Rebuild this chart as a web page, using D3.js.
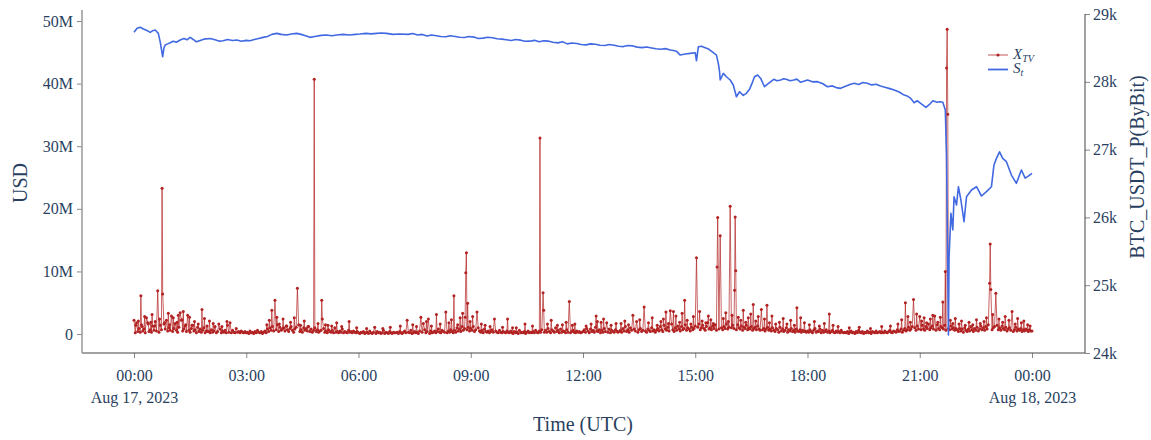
<!DOCTYPE html>
<html><head><meta charset="utf-8">
<script src="https://cdn.jsdelivr.net/npm/d3@7/dist/d3.min.js"></script>
<style>body{margin:0;background:#fff}svg{display:block}</style>
</head><body>
<svg id="c" width="1151" height="440"></svg>
<script>
// ---- DATA ----
// X_TV background activity, every 2 minutes from 2023-08-17 00:00 UTC, in units of 0.1M USD (one row per hour)
const xtvBase = [
 6,2,12,4,9,3,15,5,8,2,11,18,4,7,3,13,6,20,5,9,3,14,7,4,16,8,25,5,10,6,
 12,4,9,15,6,3,11,7,22,5,8,13,4,10,6,3,9,14,5,7,2,11,4,8,3,6,10,2,5,4,
 4,2,7,3,5,12,2,4,3,8,2,5,3,6,2,14,3,4,2,6,3,2,9,3,4,2,5,3,2,4,
 2,3,1,5,2,3,1,4,2,6,3,2,4,1,3,5,2,8,4,10,6,12,5,9,7,15,4,11,6,8,
 10,5,13,7,4,9,12,6,3,8,11,5,15,4,7,3,10,6,9,5,12,4,8,3,6,10,4,7,3,5,
 6,4,9,3,5,2,7,4,3,6,2,10,3,4,2,5,3,8,2,4,3,2,6,3,4,2,5,3,2,4,
 2,1,3,2,4,1,2,3,1,5,2,1,3,2,1,4,2,3,1,2,6,1,3,2,1,4,2,1,3,2,
 2,3,1,4,2,1,3,5,2,1,3,2,6,1,2,4,2,3,1,5,2,3,1,7,2,4,3,1,5,2,
 3,5,2,4,8,3,2,6,4,3,9,2,5,3,7,4,2,6,3,10,5,8,4,12,6,9,15,7,11,5,
 9,6,12,4,7,3,10,5,3,6,2,8,4,3,5,2,4,7,3,2,5,3,2,6,3,2,4,3,2,5,
 3,2,5,2,1,4,2,3,1,6,2,3,2,4,1,3,5,2,3,2,4,2,6,3,2,5,3,7,4,3,
 6,3,9,4,2,7,5,3,10,4,6,2,8,3,5,4,2,7,3,5,2,4,6,3,2,5,3,4,2,3,
 4,7,3,9,5,2,8,4,6,3,11,5,4,7,2,6,3,9,4,5,3,8,2,6,4,3,7,5,3,4,
 6,3,9,5,12,4,7,3,10,6,4,8,5,13,3,7,9,4,6,11,5,3,8,6,4,10,5,7,3,6,
 9,5,12,7,4,14,8,6,11,5,9,16,7,4,10,6,13,8,5,12,7,9,15,6,10,8,5,11,7,9,
 13,8,11,16,7,10,14,9,6,12,18,8,10,7,13,9,15,6,11,8,14,10,7,12,9,16,8,11,7,10,
 14,9,12,7,15,10,8,13,6,11,9,14,7,10,8,12,6,9,11,7,13,8,6,10,7,9,5,8,11,6,
 8,5,10,6,4,9,7,3,11,5,8,4,6,10,3,7,5,9,4,6,3,8,5,4,7,3,6,4,5,3,
 5,3,7,4,2,6,9,3,5,4,8,2,6,3,4,7,3,5,2,4,6,3,2,5,3,4,2,6,3,2,
 3,2,4,1,3,5,2,3,1,4,2,6,3,2,4,1,3,2,5,2,3,1,4,3,2,5,2,3,4,2,
 3,2,5,3,2,4,6,3,2,5,4,3,7,4,5,8,3,6,9,5,7,11,6,8,12,7,10,6,13,8,
 11,7,14,8,6,12,9,16,7,10,13,8,11,6,15,9,7,12,10,8,14,6,11,9,7,13,8,10,6,9,
 7,4,9,5,8,3,10,6,4,8,5,12,7,4,9,6,11,5,8,13,7,10,6,12,8,15,9,11,7,10,
 12,8,14,7,10,6,13,9,7,11,5,8,10,6,9,4,7,11,5,8,6,9,4,7,5,8,6,4,7,5,
 5
];
// X_TV medium prints between the 2-minute samples: minute after 00:00 and value in M USD
const xtvMidMin = [3,7,13,17,23,29,33,41,49,55,57,63,69,71,77,83,89,93,97,103,113,117,127,141,149,
 213,217,233,239,245,251,257,267,273,279,295,307,317,325,
 357,373,411,447,453,477,491,
 505,509,519,523,527,539,543,557,563,571,
 591,613,639,663,669,687,693,703,
 725,733,749,753,765,773,787,793,811,825,831,839,845,
 849,857,869,875,879,887,893,897,907,911,917,921,925,929,945,949,953,959,969,973,977,981,985,989,997,1001,1011,1019,1023,1029,
 1035,1041,1047,1053,1059,1069,1075,1083,1091,1099,1107,1121,1129,
 1147,1163,1181,1199,1213,1225,
 1231,1241,1245,1255,1263,1267,1271,1277,1281,1289,1293,1309,1313,1317,1323,1327,1333,1339,1345,1351,1357,1363,1367,1377,1387,1393,1397,1403,1413,1417,1423,1427,1433,1437];
const xtvMidVal = [1.4,2.1,1.2,2.8,1.6,3.1,1.3,2.4,1.8,3.3,1.5,2.6,1.9,3.0,2.3,1.5,2.7,1.4,2.0,1.6,2.5,1.3,1.7,1.2,2.0,
 1.5,2.2,1.6,2.4,1.3,1.9,2.6,1.4,2.1,1.2,1.7,1.5,1.3,1.8,
 1.0,0.9,1.1,1.5,1.2,1.3,1.6,
 1.8,2.3,1.5,2.6,3.3,2.0,2.8,1.6,1.4,1.2,
 1.1,1.0,1.3,1.6,2.2,1.5,1.9,1.4,
 1.3,1.6,1.9,2.4,1.4,1.7,2.1,1.5,2.3,1.8,2.6,1.4,2.0,
 2.4,1.7,2.9,1.9,3.3,2.2,1.6,2.8,3.6,2.1,1.8,2.9,2.3,1.7,2.5,3.4,2.0,3.0,2.7,2.2,3.8,1.9,2.6,3.2,2.1,2.8,2.4,1.8,2.9,1.6,
 1.9,2.5,1.6,2.2,1.4,2.6,1.8,1.5,2.0,1.3,1.7,1.4,1.2,
 1.0,1.1,0.9,1.2,1.3,1.6,
 2.3,2.8,1.9,3.2,2.1,2.6,1.8,2.4,3.0,1.9,2.7,2.2,1.7,2.5,1.6,2.1,1.4,1.9,1.5,2.3,1.7,2.0,2.6,3.1,2.4,1.9,2.8,2.2,1.6,2.5,1.8,2.1,1.5,1.3];
// X_TV larger prints: minute after 00:00 and value in M USD
const xtvSpikeMin = [0,4,11,20,27,38,45,46,52,60,66,74,79,86,109,121,136,154,221,226,229,262,289,301,302,311,333,345,386,399,427,438,460,464,469,472,485,500,513,531,532,533,535,550,578,599,607,627,651,656,657,679,698,707,741,743,758,781,800,806,818,853,860,865,883,902,935,936,940,956,963,964,965,993,1006,1015,1063,1115,1237,1250,1260,1284,1297,1301,1303,1304,1305,1372,1373,1374,1382,1408];
const xtvSpikeVal = [2.2,1.8,6.1,2.6,1.9,6.9,23.3,6.4,2.2,2.9,1.7,3.4,3.6,3.0,3.9,2.1,1.6,1.8,3.8,5.4,2.7,7.3,40.7,5.4,2.4,1.4,1.2,2.0,1.1,0.9,1.3,2.2,2.7,1.7,2.0,2.4,3.1,3.5,6.1,2.7,9.8,13.0,4.9,3.5,2.4,2.4,1.0,1.6,31.3,6.6,3.8,1.4,5.2,1.6,2.9,2.0,1.8,1.7,3.0,2.0,4.3,3.5,3.7,3.6,5.4,12.2,10.7,18.6,15.7,20.4,7.0,18.7,10.1,4.7,3.9,4.6,4.2,3.2,5.0,5.5,2.8,2.9,5.1,10.0,42.5,48.7,35.1,8.1,14.4,7.1,6.5,3.6];
// S_t: BTC_USDT_P (ByBit) price, minute after 00:00 and price
const priceMin = [0,5,10,15,20,26,30,34,39,42,44,46,48,50,54,58,63,68,74,80,85,90,95,100,106,112,122,130,137,143,150,158,165,172,180,186,193,200,207,214,221,229,236,245,252,261,268,275,282,290,300,309,317,325,335,345,355,362,372,380,389,397,405,415,426,
 440,447,455,462,470,477,485,492,500,507,515,522,530,537,545,552,560,567,575,582,590,597,605,612,620,627,635,642,650,657,665,672,680,687,695,702,710,717,725,732,740,747,755,762,770,777,785,792,800,807,815,822,830,837,845,852,860,865,870,
 876,884,892,900,902,905,910,915,922,929,934,937,939,940,945,950,956,961,964,966,971,977,982,987,992,995,1000,1005,1011,1018,
 1026,1031,1037,1042,1047,1052,1058,1063,1069,1074,1080,1088,1096,1104,1112,1120,1126,1133,1140,1148,1155,1162,1169,1176,1183,1190,1197,1204,1212,1219,1227,1235,1240,1245,1251,1256,1262,1270,1277,1281,1288,1292,1297,1301,
 1303,1306,1307,1310,1313,1315,1319,1322,1326,1331,1335,1343,1351,1359,1367,1375,1379,1383,1388,1393,1399,1407,1415,1423,1429,1434,1440];
const priceVal = [28730,28790,28805,28780,28760,28730,28755,28765,28715,28590,28480,28370,28500,28543,28560,28577,28600,28585,28617,28640,28620,28656,28625,28590,28610,28630,28640,28620,28600,28606,28625,28610,28617,28600,28612,28606,28625,28640,28656,28670,28700,28715,28700,28690,28705,28715,28700,28680,28656,28670,28685,28690,28680,28690,28700,28690,28700,28705,28715,28708,28715,28720,28715,28700,28705,
 28700,28712,28690,28700,28675,28690,28680,28668,28665,28680,28670,28658,28655,28668,28660,28640,28645,28658,28650,28635,28630,28620,28610,28625,28615,28598,28600,28612,28590,28605,28600,28585,28575,28590,28560,28572,28565,28550,28545,28560,28555,28540,28535,28550,28540,28525,28520,28535,28530,28512,28505,28515,28500,28488,28480,28490,28470,28462,28450,
 28395,28410,28420,28430,28311,28518,28525,28508,28480,28430,28395,28272,28150,28027,28125,28075,28027,27953,27850,27780,27854,27800,27830,27889,28000,28075,28100,28050,27928,27980,
 28037,28015,28027,28045,28035,28015,28027,28040,27993,28010,28027,28000,28003,27975,27928,27940,27915,27904,27930,27960,27978,27960,27990,27978,27955,27965,27938,27920,27900,27879,27850,27805,27790,27760,27692,27721,27680,27624,27680,27721,27700,27706,27700,27584,
 26895,24265,25420,26060,25814,26305,26183,26453,26257,25937,26305,26404,26453,26316,26380,26453,26773,26871,26968,26871,26822,26625,26503,26699,26580,26610,26650];
const usdTicks = [0,10,20,30,40,50];
const usdTickLabels = ["0","10M","20M","30M","40M","50M"];
const priceTicks = [24000,25000,26000,27000,28000,29000];
const priceTickLabels = ["24k","25k","26k","27k","28k","29k"];
const timeTickHours = [0,3,6,9,12,15,18,21,24];
const timeTickLabels = ["00:00","03:00","06:00","09:00","12:00","15:00","18:00","21:00","00:00"];
const timeTickDates = {0:"Aug 17, 2023", 24:"Aug 18, 2023"};

// ---- BUILD ----
const t0 = Date.UTC(2023,7,17,0,0);
const toDate = m => new Date(t0 + m*60000);
const extra = new Map();
xtvMidMin.forEach((m,i)=>extra.set(m, xtvMidVal[i]));
xtvSpikeMin.forEach((m,i)=>extra.set(m, xtvSpikeVal[i]));
let xtv = xtvBase.map((v,i)=>({m:i*2, v:v/10})).filter(d=>!extra.has(d.m));
extra.forEach((v,m)=>xtv.push({m, v}));
xtv.sort((a,b)=>a.m-b.m);
const price = priceMin.map((m,i)=>({m, v:priceVal[i]}));

const L=82, R=1085, T=11, B=353;
const FONT = '"Liberation Serif","Times New Roman",serif';
const TXT = '#2a3f5f';
const svg = d3.select('#c');
svg.append('rect').attr('width',1151).attr('height',440).attr('fill','#fff');

const x = d3.scaleUtc().domain([toDate(-83.4), toDate(1525)]).range([L,R]);
const yL = d3.scaleLinear().domain([-3.03, 51.6]).range([B,T]);
const yR = d3.scaleLinear().domain([24000, 29045]).range([B,T]);

svg.append('clipPath').attr('id','clip').append('rect')
  .attr('x',L).attr('y',T-2).attr('width',R-L).attr('height',B-T+2);

// X_TV trace
const g1 = svg.append('g').attr('clip-path','url(#clip)');
g1.append('path').datum(xtv)
  .attr('d', d3.line().x(d=>x(toDate(d.m))).y(d=>yL(d.v)))
  .attr('fill','none').attr('stroke','#b22222').attr('stroke-width',1).attr('stroke-opacity',0.7);
g1.selectAll('circle').data(xtv).join('circle')
  .attr('cx',d=>x(toDate(d.m))).attr('cy',d=>yL(d.v)).attr('r',1.5)
  .attr('fill','#b22222');

// S_t trace
const g2 = svg.append('g').attr('clip-path','url(#clip)');
g2.append('path').datum(price)
  .attr('d', d3.line().x(d=>x(toDate(d.m))).y(d=>yR(d.v)))
  .attr('fill','none').attr('stroke','#4169e1').attr('stroke-width',1.6)
  .attr('stroke-linejoin','round');

// axes
function styleAxis(g){
  g.selectAll('text').attr('font-family',FONT).attr('font-size',16).attr('fill',TXT);
  g.selectAll('.tick line').attr('stroke','#888');
  g.select('.domain').remove();
}
const ax = svg.append('g').attr('transform',`translate(0,${B})`)
  .call(d3.axisBottom(x).tickValues(timeTickHours.map(h=>toDate(h*60))).tickSize(5).tickPadding(6)
        .tickFormat((d,i)=>timeTickLabels[i]));
styleAxis(ax);
ax.selectAll('.tick text').attr('dy','1.05em');
ax.selectAll('.tick').each(function(d,i){
  const h = timeTickHours[i];
  if (timeTickDates[h]) d3.select(this).append('text').attr('y',50).attr('text-anchor','middle')
    .attr('font-family',FONT).attr('font-size',16).attr('fill',TXT).text(timeTickDates[h]);
});
svg.append('line').attr('x1',L).attr('x2',R).attr('y1',B).attr('y2',B).attr('stroke','#444').attr('stroke-width',1);

const ayl = svg.append('g').attr('transform',`translate(${L},0)`)
  .call(d3.axisLeft(yL).tickValues(usdTicks).tickSize(5).tickPadding(4).tickFormat((d,i)=>usdTickLabels[i]));
styleAxis(ayl);
svg.append('line').attr('x1',L).attr('x2',L).attr('y1',T-1).attr('y2',B).attr('stroke','#999').attr('stroke-width',1.5);

const ayr = svg.append('g').attr('transform',`translate(${R},0)`)
  .call(d3.axisRight(yR).tickValues(priceTicks).tickSize(5).tickPadding(3).tickFormat((d,i)=>priceTickLabels[i]));
styleAxis(ayr);
svg.append('line').attr('x1',R).attr('x2',R).attr('y1',yR(29000)).attr('y2',B).attr('stroke','#444').attr('stroke-width',1);

// titles
svg.append('text').attr('x',583).attr('y',431).attr('text-anchor','middle')
  .attr('font-family',FONT).attr('font-size',20).attr('fill',TXT).text('Time (UTC)');
svg.append('text').attr('transform','translate(27,183) rotate(-90)').attr('text-anchor','middle')
  .attr('font-family',FONT).attr('font-size',20).attr('fill',TXT).text('USD');
svg.append('text').attr('transform','translate(1144,167) rotate(-90)').attr('text-anchor','middle')
  .attr('font-family',FONT).attr('font-size',20).attr('fill',TXT).text('BTC_USDT_P(ByBit)');

// legend
const lg = svg.append('g');
lg.append('line').attr('x1',988).attr('x2',1008).attr('y1',55).attr('y2',55).attr('stroke','#b22222').attr('stroke-opacity',0.5).attr('stroke-width',1.5);
lg.append('circle').attr('cx',998).attr('cy',55).attr('r',1.6).attr('fill','#b22222');
lg.append('line').attr('x1',988).attr('x2',1008).attr('y1',69.5).attr('y2',69.5).attr('stroke','#4169e1').attr('stroke-width',1.8);
const t1 = lg.append('text').attr('x',1013).attr('y',59).attr('font-family',FONT).attr('font-size',15).attr('fill',TXT).attr('font-style','italic');
t1.append('tspan').text('X');
t1.append('tspan').attr('font-size',10).attr('dy',3).text('TV');
const t2 = lg.append('text').attr('x',1013).attr('y',73).attr('font-family',FONT).attr('font-size',15).attr('fill',TXT).attr('font-style','italic');
t2.append('tspan').text('S');
t2.append('tspan').attr('font-size',10).attr('dy',3).text('t');
</script>
</body></html>
